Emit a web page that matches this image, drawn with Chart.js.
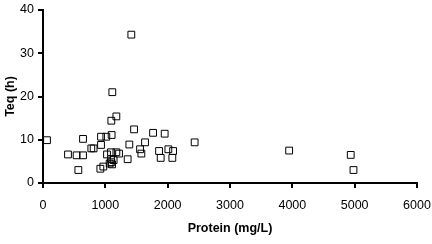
<!DOCTYPE html>
<html>
<head>
<meta charset="utf-8">
<script src="https://cdn.jsdelivr.net/npm/chart.js@4"></script>
<style>
  html, body { margin: 0; padding: 0; background: #fff; }
  #wrap { width: 432px; height: 244px; }
</style>
</head>
<body>
<div id="wrap"><canvas id="teqChart" width="432" height="244"></canvas></div>
<script>
// protein concentration (mg/L) and equilibrium time (h)
const protein = [64, 401, 539, 642, 567, 642, 775, 812, 931, 931, 1016, 1101, 1096, 1177, 1112, 1417,
  920, 968, 1027, 1091, 1091, 1069, 1108, 1133, 1177, 1220, 1096, 1358, 1385, 1461, 1557, 1578, 1637,
  1766, 1862, 1888, 1952, 2011, 2087, 2075, 2433, 3949, 4937, 4981];
const teq = [9.9, 6.6, 6.4, 6.4, 3.0, 10.2, 8.0, 8.0, 8.8, 10.7, 10.7, 11.1, 14.4, 15.4, 21.0, 34.3,
  3.3, 3.8, 6.6, 7.1, 5.5, 4.5, 4.3, 5.3, 7.1, 6.8, 4.8, 5.5, 8.9, 12.4, 7.8, 6.8, 9.4,
  11.6, 7.4, 5.8, 11.4, 7.8, 7.4, 5.8, 9.4, 7.5, 6.5, 3.0];
const xTicks = [0, 1000, 2000, 3000, 4000, 5000, 6000];
const yTicks = [0, 10, 20, 30, 40];

const points = protein.map((p, i) => ({ x: p, y: teq[i] }));
const fontFamily = "'Liberation Sans', Arial, sans-serif";

const ctx = document.getElementById('teqChart').getContext('2d');
new Chart(ctx, {
  type: 'scatter',
  data: {
    datasets: [{
      data: points,
      pointStyle: 'rect',
      pointRadius: 4.8,
      pointHoverRadius: 4.8,
      borderColor: '#000',
      borderWidth: 1,
      backgroundColor: 'rgba(255,255,255,0)'
    }]
  },
  options: {
    responsive: false,
    animation: false,
    layout: { padding: { top: 10, right: 15, bottom: 8, left: 3 } },
    plugins: { legend: { display: false }, tooltip: { enabled: false } },
    scales: {
      x: {
        type: 'linear',
        min: xTicks[0],
        max: xTicks[xTicks.length - 1],
        afterBuildTicks: (scale) => { scale.ticks = xTicks.map(v => ({ value: v })); },
        afterFit: (scale) => {
          scale.height = 53;
          scale.paddingLeft = 0;
          scale.paddingRight = 0;
        },
        border: { color: '#000', width: 2 },
        grid: { drawOnChartArea: false, drawTicks: true, tickLength: 5, color: '#000', lineWidth: 2 },
        ticks: {
          color: '#000',
          padding: 10,
          font: { family: fontFamily, size: 12.5 },
          callback: (v) => String(v)
        },
        title: {
          display: true,
          text: 'Protein (mg/L)',
          color: '#000',
          padding: 0,
          font: { family: fontFamily, size: 12.5, weight: 'bold' }
        }
      },
      y: {
        type: 'linear',
        min: yTicks[0],
        max: yTicks[yTicks.length - 1],
        afterBuildTicks: (scale) => { scale.ticks = yTicks.map(v => ({ value: v })); },
        afterFit: (scale) => {
          scale.width = 40;
          scale.paddingTop = 0;
          scale.paddingBottom = 0;
        },
        border: { color: '#000', width: 2 },
        grid: { drawOnChartArea: false, drawTicks: true, tickLength: 5, color: '#000', lineWidth: 2 },
        ticks: {
          color: '#000',
          padding: 4,
          font: { family: fontFamily, size: 12.5 },
          callback: (v) => String(v)
        },
        title: {
          display: true,
          text: 'Teq (h)',
          color: '#000',
          padding: 0,
          font: { family: fontFamily, size: 12.5, weight: 'bold' }
        }
      }
    }
  }
});
</script>
</body>
</html>
